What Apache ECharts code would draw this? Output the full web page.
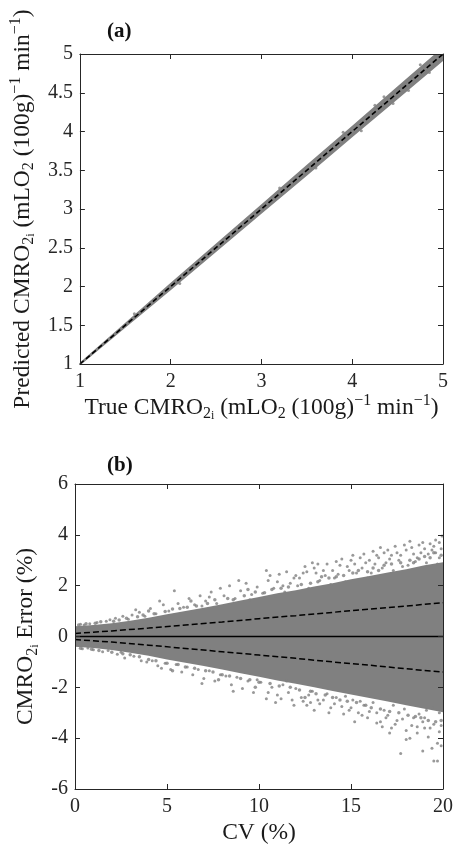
<!DOCTYPE html>
<html>
<head>
<meta charset="utf-8">
<script src="https://cdn.jsdelivr.net/npm/echarts@6/dist/echarts.min.js"></script>
<style>
html,body{margin:0;padding:0;background:#fff;}
#c{width:456px;height:848px;}
</style>
</head>
<body>
<div id="c"></div>
<script>
// ---------- Panel (a) data ----------
var aTicksX = [1, 2, 3, 4, 5];
var aTicksY = [1, 1.5, 2, 2.5, 3, 3.5, 4, 4.5, 5];
var aTrue = [1, 1.5, 2, 2.5, 3, 3.5, 4, 4.5, 5, 5.1];
var aLow  = [0.98, 1.468, 1.952, 2.445, 2.94, 3.43, 3.925, 4.415, 4.91, 5.01];
var aHigh = [1.02, 1.532, 2.048, 2.555, 3.06, 3.57, 4.075, 4.585, 5.09, 5.19];
var aExtra = [[4.35,4.45],[4.62,4.53],[3.2,3.27],[2.1,2.04],[4.75,4.86],[4.1,4.01],[3.9,3.99],[4.45,4.36],[4.85,4.76],[1.6,1.65],[4.25,4.34],[3.6,3.53]];
var aIdentity = [[1,1],[5,5]];

// ---------- Panel (b) data ----------
var bTicksX = [0, 5, 10, 15, 20];
var bTicksY = [-6, -4, -2, 0, 2, 4, 6];
var bandCV = [0,1,2,3,4,5,6,7,8,9,10,11,12,13,14,15,16,17,18,19,20];
var bandUp = [0.4,0.45,0.52,0.62,0.74,0.88,1.0,1.13,1.27,1.42,1.55,1.7,1.82,1.97,2.1,2.25,2.38,2.52,2.65,2.8,2.92];
var bandLo = [-0.4,-0.45,-0.53,-0.64,-0.76,-0.9,-1.03,-1.16,-1.3,-1.45,-1.58,-1.73,-1.86,-2.0,-2.14,-2.28,-2.42,-2.56,-2.7,-2.84,-2.98];
var edgeUp = [
 [0.2,0.45],[0.6,0.5],[1.1,0.52],[1.4,0.58],[2.1,0.6],[2.4,0.65],[2.8,0.72],[3.4,0.78],[3.7,0.85],[4.3,0.9],
 [4.9,0.98],[5.3,1.08],[5.7,1.1],[6.1,1.15],[6.6,1.2],[7.2,1.3],[7.6,1.45],[8.3,1.5],[8.6,1.45],[9.2,1.6],
 [9.8,1.75],[10.3,1.72],[10.7,1.85],[11.2,1.9],[11.6,1.95],[12.3,2.05],[12.8,2.1],[13.2,2.15],[13.8,2.3],[14.2,2.35],
 [14.6,2.4],[15.1,2.5],[15.4,2.6],[15.9,2.55],[16.2,2.7],[16.5,2.6],[16.8,2.8],[17.2,2.85],[17.7,2.9],[18.2,3.0],
 [18.4,2.9],[18.7,3.05],[19.0,3.15],[19.3,3.1],[19.5,3.3],[19.9,3.2],[13.4,2.35],[9.4,1.85],[6.3,1.4],[4.0,1.0]
];
var edgeLo = [
 [0.3,-0.46],[0.9,-0.5],[1.3,-0.55],[2.0,-0.62],[2.6,-0.68],[3.0,-0.72],[3.5,-0.8],[4.0,-0.9],[4.4,-0.95],[5.0,-1.05],
 [5.6,-1.1],[6.0,-1.2],[6.5,-1.25],[7.1,-1.35],[7.5,-1.4],[8.0,-1.5],[8.4,-1.55],[9.0,-1.65],[9.5,-1.7],[10.0,-1.8],
 [10.6,-1.85],[11.1,-1.95],[11.7,-2.0],[12.2,-2.1],[12.8,-2.15],[13.1,-2.25],[13.6,-2.3],[14.0,-2.4],[14.4,-2.5],[14.8,-2.55],
 [15.3,-2.6],[15.8,-2.7],[16.1,-2.8],[16.6,-2.85],[17.1,-2.95],[17.6,-3.0],[18.1,-3.1],[18.5,-3.15],[18.8,-3.2],[19.2,-3.3],
 [19.6,-3.35],[19.9,-3.3],[12.5,-2.4],[9.8,-2.0],[7.8,-1.7],[5.3,-1.35]
];
var sparseUp = [
 [0.3,0.48],[0.8,0.5],[1.2,0.55],[1.7,0.6],[0.5,0.45],[1.9,0.66],
 [2.2,0.72],[2.6,0.8],[3.1,0.85],[3.5,0.95],[3.8,0.8],[2.9,0.68],[3.3,1.05],
 [4.1,1.1],[4.4,0.9],[4.8,1.25],[5.1,1.0],[5.4,1.8],[5.6,1.3],[5.9,1.15],[4.6,1.4],
 [6.2,1.5],[6.5,1.25],[6.8,1.6],[7.1,1.4],[7.4,1.75],[7.7,1.3],[7.9,1.9],[6.9,1.2],[7.3,1.55],
 [8.1,1.6],[8.4,2.0],[8.7,1.5],[9.0,1.8],[9.3,2.1],[9.6,1.65],[9.9,1.95],[8.9,2.2],[9.5,1.45],
 [10.2,1.7],[10.5,2.2],[10.8,1.9],[11.1,2.45],[11.4,1.75],[11.7,2.1],[11.9,2.3],[10.9,1.6],[11.3,2.0],[10.4,2.6],
 [12.1,2.0],[12.4,2.5],[12.7,1.9],[13.0,2.7],[13.3,2.2],[13.6,2.4],[13.9,2.05],[12.9,2.9],[13.5,2.6],[12.2,2.3],
 [14.1,2.3],[14.4,2.8],[14.7,2.15],[15.0,3.0],[15.3,2.5],[15.6,2.7],[15.9,2.3],[14.9,2.6],[15.5,3.1],[14.3,2.45],[15.8,2.9],
 [16.1,2.5],[16.4,3.2],[16.7,2.7],[17.0,3.4],[17.3,2.6],[17.6,3.0],[17.9,3.6],[16.9,2.9],[17.5,3.3],[16.3,2.85],[17.8,2.75],[16.6,3.5],
 [18.1,2.8],[18.3,3.5],[18.6,3.1],[18.9,3.7],[19.1,2.9],[19.4,3.4],[19.6,3.8],[19.8,3.1],[19.95,3.95],[18.5,2.95],[19.2,3.25],[19.7,2.85],[18.8,3.3],
 [10.6,2.4],[11.0,2.15],[11.5,2.55],[12.0,2.4],[12.5,2.75],[13.1,2.5],[13.7,2.85],[14.0,2.6],[14.5,3.05],[14.8,2.75],
 [15.2,2.85],[15.7,3.25],[16.0,3.0],[16.5,3.1],[16.8,3.3],[17.1,3.05],[17.4,3.55],[17.7,3.2],[18.0,3.4],[18.4,3.25],
 [18.7,3.6],[19.0,3.45],[19.3,3.65],[19.5,3.55],[19.8,3.7],[19.9,3.45],[18.2,3.75],[17.2,3.2],[16.2,3.35],[15.1,3.2],
 [14.2,2.95],[13.2,2.85],[12.6,2.55],[19.6,3.3]
];
var sparseLo = [
 [0.4,-0.48],[1.0,-0.52],[1.5,-0.6],[1.8,-0.55],[0.7,-0.45],
 [2.3,-0.7],[2.7,-0.85],[3.2,-0.78],[3.6,-0.95],[3.9,-1.0],[2.5,-0.62],
 [4.2,-0.95],[4.5,-1.15],[4.9,-1.05],[5.2,-1.3],[5.5,-1.1],[5.8,-1.4],[4.7,-1.25],
 [6.1,-1.2],[6.4,-1.5],[6.7,-1.3],[7.0,-1.65],[7.3,-1.35],[7.6,-1.75],[7.9,-1.5],[6.9,-1.85],
 [8.2,-1.55],[8.5,-1.9],[8.8,-1.6],[9.1,-2.05],[9.4,-1.75],[9.7,-2.2],[9.9,-1.7],[8.6,-2.15],
 [10.1,-1.8],[10.4,-2.45],[10.7,-2.0],[11.0,-2.3],[11.3,-1.9],[11.6,-2.2],[11.8,-2.5],[10.9,-2.6],[11.5,-1.75],
 [12.0,-2.05],[12.3,-2.4],[12.6,-2.7],[12.9,-2.15],[13.2,-2.5],[13.3,-2.65],[13.7,-2.25],[13.9,-2.8],[12.7,-2.3],
 [14.2,-2.4],[14.5,-2.75],[14.9,-2.9],[15.1,-2.5],[15.4,-3.0],[15.7,-2.7],[15.9,-3.2],[14.7,-2.35],[15.5,-2.55],
 [16.2,-2.6],[16.6,-3.35],[16.8,-2.9],[17.0,-3.1],[17.3,-2.7],[17.7,-4.6],[17.5,-3.3],[16.4,-3.0],[17.9,-2.85],[17.2,-3.6],
 [18.0,-4.05],[18.2,-4.0],[18.6,-3.55],[18.9,-4.5],[19.0,-3.2],[19.3,-3.6],[19.5,-4.9],[19.7,-4.9],[19.7,-4.2],[19.8,-3.0],[18.4,-3.2],[19.1,-2.9],[18.7,-3.05],[19.9,-3.5],[19.4,-2.8],
 [10.5,-2.2],[11.2,-2.45],[11.9,-2.7],[12.4,-2.55],[13.0,-2.9],[13.5,-2.5],[14.1,-2.65],[14.6,-3.05],[15.0,-2.8],[15.6,-3.1],
 [16.0,-2.95],[16.4,-3.4],[16.9,-3.2],[17.4,-3.45],[17.8,-3.25],[18.3,-3.5],[18.6,-3.8],[19.0,-3.6],[19.2,-3.95],[19.5,-3.45],
 [19.8,-3.75],[19.9,-4.3],[18.9,-3.35],[17.1,-3.8],[15.2,-3.35],[13.8,-3.0],[12.8,-2.6],[19.4,-4.4],[18.0,-3.7],[16.7,-3.55]
];
var meanCV = [0, 20];
var meanErr = [0, 0];
var sdCV  = [0, 2, 4, 6, 8, 10, 12, 14, 16, 18, 20];
var sdUp  = [0.12, 0.22, 0.33, 0.45, 0.57, 0.7, 0.82, 0.95, 1.08, 1.2, 1.33];
var sdLo  = [-0.12, -0.22, -0.34, -0.47, -0.6, -0.73, -0.86, -1.0, -1.13, -1.27, -1.4];

// ---------- build ----------
var FF = 'Liberation Serif';
var AX = '#262626';
var GRAY = '#808080';
function zip(x, y) { return x.map(function (v, i) { return [v, y[i]]; }); }

var rich = {
  s:  {fontFamily: FF, fontSize: 16, lineHeight: 18, verticalAlign: 'bottom', color: '#1a1a1a'},
  ss: {fontFamily: FF, fontSize: 12, lineHeight: 12, verticalAlign: 'bottom', color: '#1a1a1a'},
  p:  {fontFamily: FF, fontSize: 16, lineHeight: 18, verticalAlign: 'top', color: '#1a1a1a'}
};
var nameStyle = {fontFamily: FF, fontSize: 23.5, lineHeight: 29, color: '#1a1a1a', rich: rich};
var labelStyle = {fontFamily: FF, fontSize: 20, color: AX};

function axisBase(grid, ticks, pos) {
  return {gridIndex: grid, type: 'value', position: pos, min: ticks[0], max: ticks[ticks.length - 1],
    interval: ticks[1] - ticks[0], z: 10,
    axisLine: {show: true, onZero: false, lineStyle: {color: AX, width: 1}},
    axisTick: {show: true, inside: true, length: 5, lineStyle: {color: AX}},
    splitLine: {show: false}};
}
function mainX(grid, ticks, name) {
  var a = axisBase(grid, ticks, 'bottom');
  a.axisLabel = Object.assign({margin: 8}, labelStyle);
  a.name = name; a.nameLocation = 'middle'; a.nameGap = 29; a.nameTextStyle = nameStyle;
  return a;
}
function mirror(grid, ticks, pos) {
  var a = axisBase(grid, ticks, pos);
  a.axisLabel = {show: false};
  return a;
}
function mainY(grid, ticks, name) {
  var a = axisBase(grid, ticks, 'left');
  a.axisLabel = Object.assign({margin: 7}, labelStyle);
  a.name = name; a.nameLocation = 'middle'; a.nameGap = 34; a.nameTextStyle = nameStyle;
  return a;
}

var nameAX = 'True CMRO{s|2}{ss|i} (mLO{s|2} (100g){p|\u22121} min{p|\u22121})';
var nameAY = 'Predicted CMRO{s|2}{ss|i} (mLO{s|2} (100g){p|\u22121} min{p|\u22121})';
var nameBX = 'CV (%)';
var nameBY = 'CMRO{s|2}{ss|i} Error (%)';

function bandItem(params, api) {
  if (params.dataIndex !== 0) return null;
  var pts = [];
  for (var i = 0; i < aTrue.length; i++) pts.push(api.coord([aTrue[i], aHigh[i]]));
  for (var j = aTrue.length - 1; j >= 0; j--) pts.push(api.coord([aTrue[j], aLow[j]]));
  return {type: 'polygon', shape: {points: pts}, style: {fill: GRAY}};
}

var option = {
  animation: false,
  backgroundColor: '#fff',
  title: [
    {text: '(a)', left: 107, top: 21, padding: 0, textStyle: {fontFamily: FF, fontSize: 21, fontWeight: 'bold', color: '#111'}},
    {text: '(b)', left: 107, top: 455, padding: 0, textStyle: {fontFamily: FF, fontSize: 21, fontWeight: 'bold', color: '#111'}}
  ],
  grid: [
    {left: 75, top: 54, width: 368, height: 310},
    {left: 75, top: 484, width: 368, height: 310}
  ],
  xAxis: [mainX(0, aTicksX, nameAX), mirror(0, aTicksX, 'top'), mainX(1, bTicksX, nameBX), mirror(1, bTicksX, 'top')],
  yAxis: [mainY(0, aTicksY, nameAY), mirror(0, aTicksY, 'right'), mainY(1, bTicksY, nameBY), mirror(1, bTicksY, 'right')],
  series: [
    // panel (a)
    {type: 'custom', xAxisIndex: 0, yAxisIndex: 0, data: zip(aTrue, aLow), encode: {x: 0, y: 1},
     renderItem: bandItem, clip: true, silent: true, z: 2},
    {type: 'scatter', xAxisIndex: 0, yAxisIndex: 0, data: aExtra, symbolSize: 3,
     itemStyle: {color: GRAY}, silent: true, z: 3},
    {type: 'line', xAxisIndex: 0, yAxisIndex: 0, data: aIdentity, showSymbol: false, symbol: 'none',
     lineStyle: {color: '#000', width: 1.6, type: [5, 3]}, silent: true, z: 4},
    // panel (b)
    {type: 'line', xAxisIndex: 2, yAxisIndex: 2, data: zip(bandCV, bandUp), showSymbol: false, symbol: 'none',
     lineStyle: {width: 0, opacity: 0}, areaStyle: {color: GRAY, opacity: 1}, silent: true, z: 2},
    {type: 'line', xAxisIndex: 2, yAxisIndex: 2, data: zip(bandCV, bandLo), showSymbol: false, symbol: 'none',
     lineStyle: {width: 0, opacity: 0}, areaStyle: {color: GRAY, opacity: 1}, silent: true, z: 2},
    {type: 'scatter', xAxisIndex: 2, yAxisIndex: 2, data: edgeUp.concat(edgeLo), symbolSize: 3.5,
     itemStyle: {color: GRAY}, silent: true, z: 3},
    {type: 'scatter', xAxisIndex: 2, yAxisIndex: 2, data: sparseUp.concat(sparseLo), symbolSize: 3,
     itemStyle: {color: GRAY}, silent: true, z: 3},
    {type: 'line', xAxisIndex: 2, yAxisIndex: 2, data: zip(meanCV, meanErr), showSymbol: false, symbol: 'none',
     lineStyle: {color: '#000', width: 1.5}, silent: true, z: 4},
    {type: 'line', xAxisIndex: 2, yAxisIndex: 2, data: zip(sdCV, sdUp), showSymbol: false, symbol: 'none',
     lineStyle: {color: '#000', width: 1.5, type: [6, 3]}, silent: true, z: 4},
    {type: 'line', xAxisIndex: 2, yAxisIndex: 2, data: zip(sdCV, sdLo), showSymbol: false, symbol: 'none',
     lineStyle: {color: '#000', width: 1.5, type: [6, 3]}, silent: true, z: 4}
  ]
};
var chart = echarts.init(document.getElementById('c'), null, {renderer: 'canvas'});
chart.setOption(option);
</script>
</body>
</html>
